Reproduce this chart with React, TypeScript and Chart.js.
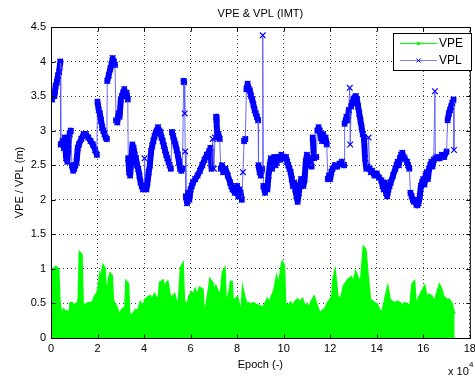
import React, { useEffect, useRef } from "react";
import { Chart, registerables } from "chart.js";

Chart.register(...registerables);

const FONT = '"Liberation Sans", Arial, Helvetica, sans-serif';

const chartTitle = "VPE & VPL (IMT)";
const xAxisTitle = "Epoch (-)";
const yAxisTitle = "VPE / VPL (m)";
const xExponentBase = "x 10";
const xExponent = "4";
const seriesNames = ["VPE", "VPL"];

const xTickValues = [0, 2, 4, 6, 8, 10, 12, 14, 16, 18];
const xTickLabels = ["0", "2", "4", "6", "8", "10", "12", "14", "16", "18"];
const yTickValues = [0, 0.5, 1, 1.5, 2, 2.5, 3, 3.5, 4, 4.5];
const yTickLabels = ["0", "0.5", "1", "1.5", "2", "2.5", "3", "3.5", "4", "4.5"];

// Epoch in units of 10^4
const vplEpoch = [
  0.05, 0.1, 0.15, 0.2, 0.25, 0.3, 0.35, 0.4,
  0.42, 0.5, 0.55, 0.6, 0.65, 0.7, 0.75, 0.8, 0.85, 0.9, 0.95, 1.0, 1.05, 1.1,
  1.15, 1.2, 1.3, 1.4, 1.5, 1.6, 1.7, 1.8, 1.9, 1.97,
  2.0, 2.05, 2.1, 2.15, 2.2, 2.25, 2.3, 2.35, 2.4,
  2.42, 2.48, 2.55, 2.6, 2.65, 2.7, 2.75,
  2.8, 2.85, 2.9, 2.95, 3.0, 3.05, 3.1, 3.15, 3.2, 3.25, 3.3,
  3.32, 3.36, 3.4, 3.45, 3.5, 3.55, 3.6, 3.65, 3.7, 3.75, 3.8, 3.85,
  3.9, 3.95, 4.0, 4.02, 4.05, 4.1, 4.15,
  4.2, 4.25, 4.3, 4.35, 4.4, 4.45, 4.5, 4.55, 4.6, 4.65, 4.7, 4.75, 4.8, 4.85, 4.9, 4.95, 5.0, 5.05, 5.1, 5.15,
  5.2, 5.25, 5.3, 5.35, 5.4, 5.45, 5.5, 5.55, 5.6, 5.65,
  5.7, 5.72, 5.75, 5.77, 5.8, 5.85, 5.9, 5.95, 6.0,
  6.05, 6.1, 6.2, 6.3, 6.4, 6.5, 6.6, 6.7, 6.8, 6.85,
  6.9, 6.95, 7.0, 7.05, 7.1, 7.12, 7.15, 7.2, 7.25, 7.3, 7.35, 7.4, 7.5, 7.6, 7.7, 7.75, 7.8, 7.9, 8.0, 8.05, 8.1, 8.15, 8.2,
  8.25, 8.3, 8.35, 8.4, 8.45, 8.5, 8.55, 8.6, 8.65, 8.7, 8.75, 8.8, 8.85, 8.9,
  8.92, 8.97, 9.02, 9.07, 9.1, 9.13, 9.2, 9.25, 9.3,
  9.35, 9.4, 9.45, 9.5, 9.55, 9.6, 9.65, 9.7, 9.75, 9.8, 9.85, 9.9, 9.95, 10.0, 10.05, 10.1, 10.15,
  10.2, 10.25, 10.3, 10.35, 10.4, 10.45, 10.5, 10.55, 10.6, 10.65,
  10.7, 10.75, 10.8, 10.85, 10.9, 10.95, 11.0, 11.05, 11.1, 11.15, 11.2, 11.25, 11.3, 11.4, 11.45, 11.5, 11.55, 11.6, 11.65, 11.7, 11.75, 11.8, 11.85, 11.9,
  11.95, 12.0, 12.05, 12.1, 12.2, 12.3, 12.4, 12.5, 12.6, 12.62, 12.7, 12.75, 12.8, 12.84, 12.86, 12.9, 12.95, 13.0, 13.05, 13.1, 13.15, 13.2, 13.25, 13.3, 13.35, 13.4, 13.45, 13.5, 13.55, 13.6, 13.65, 13.7, 13.75,
  13.8, 13.9, 14.0, 14.1, 14.2, 14.25, 14.3, 14.35, 14.4, 14.45, 14.5, 14.55, 14.6, 14.7, 14.8, 14.85, 14.9, 14.95, 15.0, 15.05, 15.1, 15.15, 15.2, 15.3, 15.35, 15.4,
  15.45, 15.5, 15.55, 15.6, 15.65, 15.7, 15.75, 15.8, 15.85, 15.9,
  15.95, 16.0, 16.05, 16.1, 16.15, 16.2, 16.25, 16.3, 16.35, 16.4, 16.45, 16.5, 16.52, 16.6, 16.7, 16.8, 16.9, 17.0, 17.05, 17.1, 17.15, 17.2, 17.25, 17.3, 17.32,
];
const vplValue = [
  3.45, 3.55, 3.5, 3.65, 3.7, 3.8, 3.85, 4.0,
  2.8, 2.85, 2.75, 2.9, 2.6, 2.55, 2.8, 2.95, 3.0, 2.5, 2.42, 2.45, 2.5, 2.55,
  2.75, 2.8, 2.88, 2.95, 2.95, 2.9, 2.85, 2.8, 2.72, 2.65,
  3.42, 3.3, 3.25, 3.15, 3.05, 3.0, 2.95, 2.9, 2.88,
  3.72, 3.8, 3.9, 3.95, 4.05, 4.0, 3.95,
  3.15, 3.12, 3.25, 3.2, 3.45, 3.5, 3.55, 3.6, 3.5, 3.55, 3.45,
  2.6, 2.4, 2.35, 2.55, 2.8, 2.75, 2.65, 2.6, 2.5, 2.45, 2.35, 2.25,
  2.2, 2.15, 2.18, 2.6, 2.2, 2.15, 2.25,
  2.4, 2.5, 2.7, 2.78, 2.85, 2.92, 2.97, 3.0, 3.05, 3.0, 2.98, 2.9, 2.85, 2.78, 2.72, 2.65, 2.6, 2.55, 2.5, 2.45,
  2.98, 2.92, 2.85, 2.8, 2.72, 2.65, 2.55, 2.45, 2.42, 2.45,
  3.72, 3.7, 3.25, 2.7, 2.05, 1.95, 2.1, 2.0, 2.15,
  2.2, 2.25, 2.3, 2.35, 2.42, 2.5, 2.58, 2.65, 2.7, 2.75,
  2.45, 2.88, 2.45, 2.9, 3.2, 3.1, 2.9, 2.95, 2.88, 2.45, 2.5, 2.4, 2.45, 2.35, 2.25, 2.2, 2.15, 2.1, 2.2, 2.05, 2.15, 2.1, 2.0,
  2.4, 2.85, 2.88, 3.6, 3.68, 3.6, 3.58, 3.5, 3.45, 3.38, 3.3, 3.25, 3.2, 3.15,
  2.5, 2.4, 2.35, 2.45, 4.38, 2.2, 2.1, 2.2, 2.15,
  2.35, 2.5, 2.6, 2.45, 2.55, 2.62, 2.5, 2.55, 2.6, 2.62, 2.58, 2.65, 2.6, 2.62, 2.6, 2.62, 2.55,
  2.5, 2.45, 2.4, 2.3, 2.2, 2.25, 2.15, 2.05, 1.97, 2.1,
  2.2, 2.3, 2.25, 2.2, 2.3, 2.55, 2.65, 2.6, 2.5, 2.55, 2.48, 2.9, 2.6, 2.62, 3.0, 3.05, 3.0, 2.9, 2.85, 2.95, 2.85, 2.9, 2.8, 2.3,
  2.35, 2.3, 2.4, 2.45, 2.5, 2.48, 2.52, 2.55, 2.5, 3.1, 3.2, 3.15, 3.3, 3.62, 2.8, 3.35, 3.4, 3.45, 3.48, 3.5, 3.45, 3.35, 3.25, 3.15, 3.05, 2.95, 2.9, 2.6, 2.45, 2.48, 2.9, 2.45, 2.4,
  2.42, 2.35, 2.38, 2.32, 2.28, 2.2, 2.15, 2.25, 2.1, 2.05, 2.15, 2.2, 2.25, 2.35, 2.45, 2.5, 2.55, 2.5, 2.6, 2.65, 2.68, 2.62, 2.6, 2.55, 2.5, 2.45,
  2.1, 2.05, 2.0, 1.97, 2.0, 1.93, 1.92, 1.95, 2.05, 2.2,
  2.25, 2.3, 2.22, 2.35, 2.4, 2.3, 2.45, 2.5, 2.55, 2.48, 2.58, 3.57, 2.6, 2.62, 2.6, 2.65, 2.62, 2.7, 3.15, 3.25, 3.3, 3.35, 3.4, 3.45, 2.72,
];

const vpeEpoch = [
  0.02, 0.1, 0.2, 0.3, 0.35, 0.4, 0.45, 0.55, 0.6, 0.7, 0.75, 0.8, 0.85, 0.9, 0.95, 1.0, 1.05, 1.15, 1.2, 1.25, 1.3, 1.35,
  1.45, 1.5, 1.6, 1.7, 1.8, 1.9, 2.0, 2.05, 2.1, 2.15, 2.2, 2.25, 2.3, 2.35, 2.4, 2.5, 2.55, 2.6, 2.65, 2.7, 2.8, 2.9,
  3.0, 3.05, 3.1, 3.2, 3.25, 3.3, 3.35, 3.45, 3.55, 3.65, 3.75, 3.85, 3.9, 4.0, 4.05, 4.15, 4.25, 4.35, 4.45, 4.55, 4.65,
  4.7, 4.8, 4.85, 4.95, 5.0, 5.1, 5.2, 5.3, 5.4, 5.5, 5.6, 5.65, 5.7, 5.8, 5.9, 5.95, 6.05, 6.15, 6.2, 6.3, 6.4, 6.5,
  6.55, 6.65, 6.75, 6.8, 6.85, 6.95, 7.0, 7.1, 7.15, 7.3, 7.4, 7.45, 7.5, 7.6, 7.7, 7.75, 7.8, 7.9, 8.0, 8.1, 8.2, 8.25,
  8.3, 8.4, 8.5, 8.6, 8.7, 8.8, 9.0, 9.1, 9.2, 9.3, 9.4, 9.5, 9.6, 9.7, 9.8, 9.9, 9.95, 10.0, 10.05, 10.2, 10.3, 10.4,
  10.5, 10.6, 10.7, 10.8, 10.9, 11.0, 11.1, 11.2, 11.3, 11.4, 11.5, 11.6, 11.7, 11.8, 11.9, 12.0, 12.1, 12.15, 12.2,
  12.3, 12.4, 12.5, 12.6, 12.7, 12.8, 12.9, 13.0, 13.1, 13.2, 13.27, 13.35, 13.45, 13.5, 13.6, 13.7, 13.8, 13.9, 14.0,
  14.1, 14.25, 14.4, 14.47, 14.55, 14.65, 14.8, 14.9, 15.0, 15.1, 15.2, 15.3, 15.45, 15.55, 15.6, 15.65, 15.75, 15.85,
  16.0, 16.05, 16.15, 16.25, 16.35, 16.45, 16.55, 16.7, 16.75, 16.85, 16.9, 17.0, 17.1, 17.2, 17.3, 17.35,
];
const vpeValue = [
  1.0, 0.98, 1.02, 1.0, 0.55, 0.4, 0.3, 0.4, 0.38, 0.38, 0.3, 0.28, 0.5, 0.5, 0.45, 0.3, 0.48, 0.5, 0.55, 1.22, 1.2, 0.5,
  0.45, 0.48, 0.5, 0.5, 0.52, 0.6, 0.65, 0.72, 0.85, 0.75, 0.95, 1.03, 1.0, 0.6, 0.6, 0.85, 0.92, 0.9, 0.55, 0.5, 0.45, 0.35,
  0.35, 0.4, 0.42, 0.38, 0.8, 0.78, 0.35, 0.32, 0.35, 0.4, 0.38, 0.5, 0.48, 0.38, 0.55, 0.58, 0.6, 0.55, 0.62, 0.55, 0.6,
  0.8, 0.82, 0.5, 0.78, 0.8, 0.6, 0.58, 0.62, 0.48, 0.5, 1.02, 1.05, 0.55, 0.48, 0.5, 0.6, 0.65, 0.62, 0.68, 0.6, 0.72, 0.7,
  0.38, 0.38, 0.6, 0.7, 0.83, 0.78, 0.55, 0.72, 0.68, 0.6, 0.95, 0.98, 0.5, 0.55, 0.7, 0.83, 0.5, 0.55, 0.58, 0.42, 0.38, 0.67,
  0.6, 0.48, 0.5, 0.45, 0.5, 0.48, 0.45, 0.42, 0.48, 0.55, 0.5, 0.6, 0.68, 0.85, 0.7, 1.0, 1.08, 1.05, 0.5, 0.45, 0.5, 0.45,
  0.52, 0.55, 0.5, 0.55, 0.45, 0.48, 0.42, 0.52, 0.58, 0.48, 0.38, 0.36, 0.4, 0.42, 0.5, 0.55, 0.6, 0.85, 0.92,
  0.6, 0.57, 0.6, 0.75, 0.8, 0.85, 0.87, 0.75, 0.93, 0.85, 0.72, 0.88, 1.3, 1.28, 0.9, 0.55, 0.53, 0.5, 0.48,
  0.4, 0.36, 0.6, 0.7, 0.55, 0.52, 0.5, 0.52, 0.5, 0.45, 0.5, 0.48, 0.45, 0.78, 0.8, 0.55, 0.5, 0.6,
  0.7, 0.73, 0.55, 0.62, 0.6, 0.5, 0.58, 0.75, 0.72, 0.6, 0.58, 0.55, 0.55, 0.5, 0.37, 0.35,
];

const VPE_COLOR = "#00ff00";
const VPL_MARK = "#0000ff";
const VPL_JUMP = "rgba(90,90,255,0.9)";

export default function App() {
  const ref = useRef<HTMLCanvasElement>(null);

  useEffect(() => {
    const canvas = ref.current;
    if (!canvas) return;

    const decor = {
      id: "decor",
      afterDraw(chart: any) {
        const { ctx, chartArea: a, scales } = chart;
        ctx.save();
        ctx.strokeStyle = "#000";
        ctx.lineWidth = 1;
        ctx.setLineDash([]);
        ctx.strokeRect(a.left + 0.5, a.top + 0.5, a.right - a.left, a.bottom - a.top);
        ctx.beginPath();
        const tl = 4;
        for (const v of xTickValues) {
          const px = Math.round(scales.x.getPixelForValue(v)) + 0.5;
          ctx.moveTo(px, a.bottom + 0.5);
          ctx.lineTo(px, a.bottom + 0.5 - tl);
          ctx.moveTo(px, a.top + 0.5);
          ctx.lineTo(px, a.top + 0.5 + tl);
        }
        for (const v of yTickValues) {
          const py = Math.round(scales.y.getPixelForValue(v)) + 0.5;
          ctx.moveTo(a.left + 0.5, py);
          ctx.lineTo(a.left + 0.5 + tl, py);
          ctx.moveTo(a.right + 0.5, py);
          ctx.lineTo(a.right + 0.5 - tl, py);
        }
        ctx.stroke();

        // title
        ctx.fillStyle = "#000";
        ctx.font = `11px ${FONT}`;
        ctx.textAlign = "center";
        ctx.textBaseline = "middle";
        ctx.fillText(chartTitle, (a.left + a.right) / 2, 14);

        // exponent label
        ctx.textAlign = "left";
        ctx.textBaseline = "alphabetic";
        ctx.font = `11px ${FONT}`;
        ctx.fillText(xExponentBase, 448, 375);
        ctx.font = `8px ${FONT}`;
        ctx.fillText(xExponent, 469, 367);

        // legend
        const lx = 393.5, ly = 33.5, lw = 78, lh = 37;
        ctx.fillStyle = "#fff";
        ctx.fillRect(lx, ly, lw, lh);
        ctx.strokeStyle = "#000";
        ctx.strokeRect(lx, ly, lw, lh);
        const rows = [43.5, 60.5];
        ctx.strokeStyle = VPE_COLOR;
        ctx.lineWidth = 1;
        ctx.beginPath();
        ctx.moveTo(400, rows[0]);
        ctx.lineTo(437, rows[0]);
        ctx.stroke();
        ctx.fillStyle = VPE_COLOR;
        ctx.beginPath();
        ctx.arc(418.5, rows[0], 1.8, 0, Math.PI * 2);
        ctx.fill();
        ctx.strokeStyle = "#8080ff";
        ctx.beginPath();
        ctx.moveTo(400, rows[1]);
        ctx.lineTo(437, rows[1]);
        ctx.stroke();
        ctx.strokeStyle = VPL_MARK;
        ctx.beginPath();
        ctx.moveTo(416.5, rows[1] - 2);
        ctx.lineTo(420.5, rows[1] + 2);
        ctx.moveTo(416.5, rows[1] + 2);
        ctx.lineTo(420.5, rows[1] - 2);
        ctx.stroke();
        ctx.fillStyle = "#000";
        ctx.font = `12px ${FONT}`;
        ctx.textBaseline = "middle";
        ctx.fillText(seriesNames[0], 439, rows[0]);
        ctx.fillText(seriesNames[1], 439, rows[1]);
        ctx.restore();
      },
    };

    const tickFont = { family: FONT, size: 11 };
    const isJump = (c: any) => Math.abs(c.p1.parsed.y - c.p0.parsed.y) > 0.3;

    const chart = new Chart(canvas, {
      type: "line",
      data: {
        datasets: [
          {
            label: seriesNames[0],
            data: vpeEpoch.map((x, i) => ({ x, y: vpeValue[i] })),
            borderColor: VPE_COLOR,
            backgroundColor: VPE_COLOR,
            borderWidth: 3,
            borderJoinStyle: "miter",
            fill: "origin",
            pointRadius: 0,
            tension: 0,
          },
          {
            label: seriesNames[1],
            data: vplEpoch.map((x, i) => ({ x, y: vplValue[i] })),
            borderColor: VPL_MARK,
            borderWidth: 5,
            borderCapStyle: "round",
            borderJoinStyle: "round",
            segment: {
              borderWidth: (c: any) => (isJump(c) ? 1 : 6),
              borderColor: (c: any) => (isJump(c) ? VPL_JUMP : VPL_MARK),
            },
            fill: false,
            pointStyle: "crossRot",
            pointRadius: 4,
            pointBorderColor: VPL_MARK,
            pointBackgroundColor: VPL_MARK,
            pointBorderWidth: 1.2,
            tension: 0,
          },
        ],
      },
      options: {
        responsive: false,
        animation: false,
        devicePixelRatio: 1,
        events: [],
        layout: { padding: { top: 27, right: 2, left: 0, bottom: 0 } },
        plugins: {
          legend: { display: false },
          title: { display: false },
          tooltip: { enabled: false },
        },
        scales: {
          x: {
            type: "linear",
            min: 0,
            max: 18,
            afterBuildTicks: (s: any) => {
              s.ticks = xTickValues.map((v) => ({ value: v }));
            },
            afterFit: (s: any) => {
              s.height = 38;
              s.paddingLeft = 0;
              s.paddingRight = 0;
            },
            ticks: {
              autoSkip: false,
              maxRotation: 0,
              color: "#000",
              font: tickFont,
              padding: 4,
              callback: (_v: any, i: number) => xTickLabels[i],
            },
            grid: { color: "rgba(0,0,0,0.75)", lineWidth: 1, drawTicks: false },
            border: { display: false, dash: [1, 3] },
            title: {
              display: true,
              text: xAxisTitle,
              color: "#000",
              font: tickFont,
              padding: { top: 0, bottom: 4 },
            },
          },
          y: {
            type: "linear",
            min: 0,
            max: 4.5,
            afterBuildTicks: (s: any) => {
              s.ticks = yTickValues.map((v) => ({ value: v }));
            },
            afterFit: (s: any) => {
              s.width = 51;
              s.paddingTop = 0;
              s.paddingBottom = 0;
            },
            ticks: {
              autoSkip: false,
              color: "#000",
              font: tickFont,
              padding: 5,
              callback: (_v: any, i: number) => yTickLabels[i],
            },
            grid: { color: "rgba(0,0,0,0.75)", lineWidth: 1, drawTicks: false },
            border: { display: false, dash: [1, 3] },
            title: {
              display: true,
              text: yAxisTitle,
              color: "#000",
              font: tickFont,
              padding: { top: 13, bottom: 0 },
            },
          },
        },
      },
      plugins: [decor],
    } as any);

    return () => chart.destroy();
  }, []);

  return (
    <div style={{ position: "absolute", left: 0, top: 0, width: 475, height: 376, background: "#fff" }}>
      <canvas ref={ref} width={475} height={376} style={{ display: "block", width: 475, height: 376 }} />
    </div>
  );
}
